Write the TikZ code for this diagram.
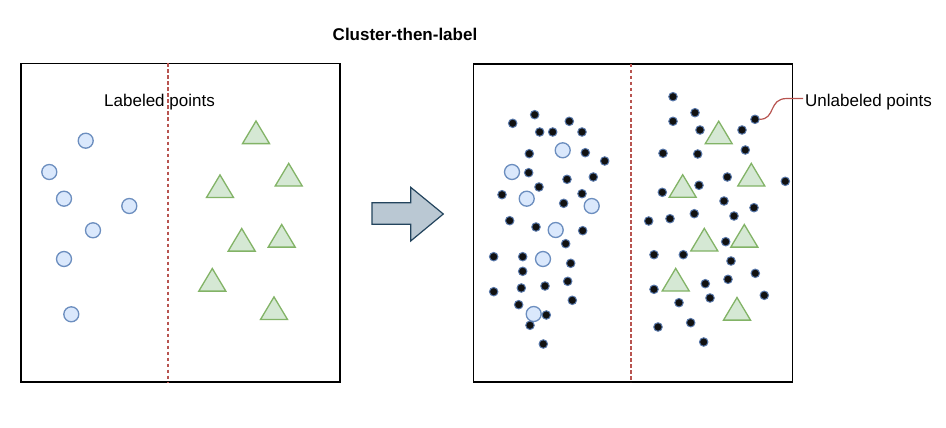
\documentclass[tikz,border=0pt]{standalone}
\usepackage{fontspec}
\setmainfont{Liberation Sans}
\definecolor{redline}{HTML}{B85450}
\definecolor{bluefill}{HTML}{DAE8FC}
\definecolor{bluestroke}{HTML}{6C8EBF}
\definecolor{greenfill}{HTML}{D5E8D4}
\definecolor{greenstroke}{HTML}{82B366}
\definecolor{arrowfill}{HTML}{BAC8D3}
\definecolor{arrowstroke}{HTML}{23445D}
\definecolor{dotfill}{HTML}{111111}
\definecolor{dotstroke}{HTML}{5878AA}
\tikzset{
 panel/.style={draw=black, line width=1.3pt},
 divider/.style={draw=redline, line width=1.3pt, dash pattern=on 3.5pt off 2.5pt},
 bcirc/.style={circle, draw=bluestroke, fill=bluefill, line width=1.3pt, minimum size=15pt, inner sep=0pt},
 dotpt/.style={circle, draw=dotstroke, fill=dotfill, line width=1pt, minimum size=8.5pt, inner sep=0pt},
 tri/.pic={\draw[draw=greenstroke, fill=greenfill, line width=1.3pt] (-13.5,11.3)--(0,-11.3)--(13.5,11.3)--cycle;},
 lbl/.style={font=\fontsize{17}{20}\selectfont, inner sep=0pt},
 bigarrow/.style={draw=arrowstroke, fill=arrowfill, line width=1.2pt, line join=miter},
 callout/.style={draw=redline, line width=1.2pt},
}
\begin{document}
\begin{tikzpicture}[x=1pt,y=-1pt]
\useasboundingbox (0,0) rectangle (946,428);
\fill[white] (0,0) rectangle (946,428);

% title
\node[lbl, font=\fontsize{17}{20}\selectfont\bfseries] (title) at (405,34) {Cluster-then-label};

% left panel
\draw[panel] (21,63.5) rectangle (340,382);
\draw[divider] (168,63.5) -- (168,382);
\node[lbl, anchor=base] (lp) at (159.5,106.5) {Labeled points};

\foreach \x/\y in {85.7/140.7, 49.3/172, 64/198.7, 129.3/206, 93/230.3, 64/259, 71.3/314.3}
  \node[bcirc] at (\x,\y) {};
\foreach \x/\y in {256/132.3, 288.7/174.7, 220/186.2, 241.7/239.8, 281.7/235.8, 212.3/279.8, 274/308.2}
  \pic at (\x,\y) {tri};

% arrow
\draw[bigarrow] (372,202.7) -- (410.7,202.7) -- (410.7,187.3) -- (443.3,214) -- (410.7,241) -- (410.7,224.3) -- (372,224.3) -- cycle;

% right panel
\draw[panel] (473.5,64) rectangle (792.7,382);
\draw[divider] (631,64) -- (631,382);

\foreach \x/\y in {562.7/150.3, 512/172, 526.7/198.7, 591.7/206, 555.7/230, 543/259, 533.7/314}
  \node[bcirc] at (\x,\y) {};
\foreach \x/\y in {718.7/132.5, 751.3/174.7, 682.7/186, 704.3/239.7, 744.3/235.8, 675.7/279.7, 737/308.8}
  \pic at (\x,\y) {tri};

\foreach \x/\y in {534.7/114.7, 512.7/123.3, 569.3/121.3, 539.7/132, 552.7/132, 582/132,
  529.3/153.7, 585.3/152.7, 604.7/161, 528.7/172.7, 567/179.3, 593.3/177, 539/187,
  502/194.7, 582/193.7, 563.7/203.3, 509.7/220.7, 536/227, 582.7/230.7, 565.7/243.7,
  493.7/256.7, 522.7/256.7, 570.7/263.3, 522.7/271.3, 567.7/281.3, 545/286, 521.3/288,
  493.7/291.7, 572.3/300.3, 518.7/304.7, 546.3/315, 530/325.3, 543.3/344}
  \node[dotpt] at (\x,\y) {};
\foreach \x/\y in {673/96.7, 695/112.7, 673/121.3, 700/130, 742/130,
  663/153.3, 697.7/154, 745.3/150, 727.3/177, 785.3/181.3, 699/185.3, 662.3/192.3,
  724/201, 754/207.7, 648.7/221, 670/218.7, 694.3/213.7, 734/216, 725.7/241.7,
  654/254.7, 683.3/254.7, 731/261, 755.3/273.3, 705.3/283.7, 728/279.3, 654/289.3,
  679/302.7, 710/298, 764.3/295.3, 658/327, 690.7/322.7, 703.7/342}
  \node[dotpt] at (\x,\y) {};
\node[dotpt] (ul) at (755,119.3) {};

% callout
\node[lbl, anchor=base west] (ut) at (805,106.7) {Unlabeled points};
\draw[callout] (ul.east) .. controls (776,119.3) and (768,98.5) .. (787,98.5) -- ([xshift=-2pt,yshift=8.2pt]ut.base west);
\end{tikzpicture}
\end{document}
